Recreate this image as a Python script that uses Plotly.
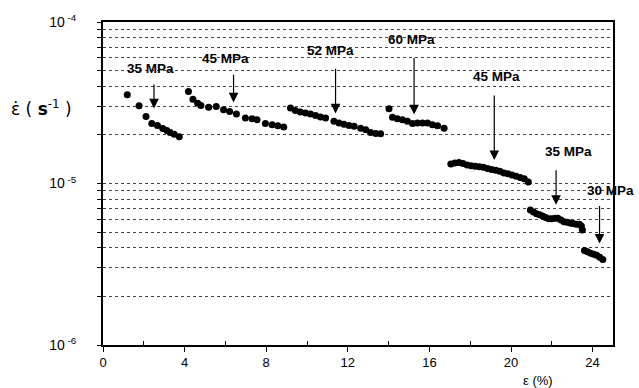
import plotly.graph_objects as go

# ---- data (strain in %, strain rate in 1/s) ----
strain_35a = [1.19, 1.77, 2.11, 2.39, 2.67, 2.93, 3.13, 3.29, 3.49, 3.74]
rate_35a = [3.54e-5, 3.03e-5, 2.60e-5, 2.35e-5, 2.29e-5, 2.19e-5, 2.13e-5, 2.07e-5, 2.02e-5, 1.95e-5]

strain_45a = [4.19, 4.41, 4.64, 4.80, 5.18, 5.55, 5.91, 6.21, 6.54, 6.98, 7.31, 7.55, 7.96, 8.29, 8.57, 8.86]
rate_45a = [3.71e-5, 3.33e-5, 3.14e-5, 3.04e-5, 2.97e-5, 3.00e-5, 2.86e-5, 2.79e-5, 2.69e-5, 2.54e-5,
            2.52e-5, 2.48e-5, 2.35e-5, 2.31e-5, 2.28e-5, 2.24e-5]

strain_52 = [9.19, 9.43, 9.68, 9.93, 10.17, 10.42, 10.66, 10.91, 11.32, 11.57, 11.81, 12.06, 12.31,
             12.63, 12.88, 13.12, 13.37, 13.61]
rate_52 = [2.93e-5, 2.83e-5, 2.77e-5, 2.73e-5, 2.69e-5, 2.64e-5, 2.58e-5, 2.54e-5, 2.43e-5, 2.37e-5,
           2.33e-5, 2.29e-5, 2.26e-5, 2.20e-5, 2.15e-5, 2.07e-5, 2.04e-5, 2.03e-5]

strain_60 = [14.02, 14.19, 14.43, 14.68, 14.92, 15.17, 15.41, 15.66, 15.91, 16.15, 16.40, 16.72]
rate_60 = [2.90e-5, 2.57e-5, 2.52e-5, 2.48e-5, 2.43e-5, 2.35e-5, 2.37e-5, 2.37e-5, 2.37e-5, 2.31e-5,
           2.28e-5, 2.20e-5]

strain_45b = [17.05, 17.25, 17.45, 17.65, 17.85, 18.05, 18.25, 18.45, 18.65, 18.85, 19.05, 19.25,
              19.45, 19.65, 19.85, 20.05, 20.25, 20.45, 20.65, 20.85]
rate_45b = [1.32e-5, 1.34e-5, 1.35e-5, 1.33e-5, 1.30e-5, 1.29e-5, 1.28e-5, 1.27e-5, 1.26e-5, 1.24e-5,
            1.22e-5, 1.21e-5, 1.19e-5, 1.16e-5, 1.15e-5, 1.13e-5, 1.11e-5, 1.09e-5, 1.07e-5, 1.02e-5]

strain_35b = [20.95, 21.1, 21.25, 21.4, 21.55, 21.7, 21.85, 22.0, 22.15, 22.3, 22.45, 22.6, 22.75,
              22.9, 23.05, 23.2, 23.35, 23.45, 23.5]
rate_35b = [6.85e-6, 6.65e-6, 6.5e-6, 6.4e-6, 6.3e-6, 6.15e-6, 6.05e-6, 6.05e-6, 6.1e-6, 6.1e-6,
            5.95e-6, 5.8e-6, 5.75e-6, 5.7e-6, 5.65e-6, 5.6e-6, 5.6e-6, 5.45e-6, 5.15e-6]

strain_30 = [23.6, 23.75, 23.9, 24.05, 24.2, 24.35, 24.5]
rate_30 = [3.85e-6, 3.78e-6, 3.7e-6, 3.65e-6, 3.6e-6, 3.5e-6, 3.38e-6]

# stress labels: text, arrow x, arrow tail log10(y), arrow tip log10(y), text x, text log10(y)
label_text = ["35 MPa", "45 MPa", "52 MPa", "60 MPa", "45 MPa", "35 MPa", "30 MPa"]
arrow_x = [2.5, 6.4, 11.4, 15.25, 19.18, 22.21, 24.34]
arrow_tail = [-4.332, -4.271, -4.234, -4.166, -4.40, -4.862, -5.083]
arrow_tip = [-4.535, -4.498, -4.566, -4.572, -4.855, -5.132, -5.372]
text_x = [2.31, 6.0, 11.15, 15.13, 19.31, 22.8, 24.9]
text_y = [-4.289, -4.228, -4.178, -4.111, -4.338, -4.80, -5.046]

x_ticks = [0, 4, 8, 12, 16, 20, 24]
x_minor = [2, 6, 10, 14, 18, 22]
y_decades = [-6, -5, -4]

segments = [(strain_35a, rate_35a), (strain_45a, rate_45a), (strain_52, rate_52),
            (strain_60, rate_60), (strain_45b, rate_45b), (strain_35b, rate_35b),
            (strain_30, rate_30)]

fig = go.Figure()
for sx, sy in segments:
    fig.add_trace(go.Scatter(x=sx, y=sy, mode="markers",
                             marker=dict(color="black", size=7, symbol="circle"),
                             showlegend=False, cliponaxis=False))

# y tick positions: every 1..9 x decade
yvals, ytext = [], []
for d in y_decades[:-1]:
    for m in range(1, 10):
        yvals.append(m * 10.0 ** d)
        ytext.append("10<sup> %d</sup>" % d if m == 1 else " ")
yvals.append(10.0 ** y_decades[-1])
ytext.append("10<sup> %d</sup>" % y_decades[-1])

font_family = "Liberation Sans, Arial, sans-serif"

fig.update_layout(
    width=639, height=388,
    margin=dict(l=103, r=26, t=20, b=43),
    paper_bgcolor="white", plot_bgcolor="white",
    font=dict(family=font_family, size=13, color="black"),
    xaxis=dict(range=[0, 25], tickvals=x_ticks, ticks="outside", ticklen=5, tickwidth=1.2,
               tickcolor="black", showgrid=False, zeroline=False,
               showline=True, linecolor="black", linewidth=1.6, mirror=True,
               minor=dict(tickvals=x_minor, ticks="inside", ticklen=4,
                          tickcolor="black", showgrid=False),
               tickfont=dict(size=13)),
    yaxis=dict(type="log", range=[-6, -4], tickvals=yvals, ticktext=ytext,
               ticks="outside", ticklen=4, tickwidth=1.2, tickcolor="black",
               showgrid=True, gridcolor="#444", griddash="dot", gridwidth=1,
               zeroline=False, showline=True, linecolor="black", linewidth=2, mirror=True,
               ticklabelstandoff=18, tickfont=dict(size=14)),
)

for i in range(len(label_text)):
    fig.add_annotation(x=arrow_x[i], y=arrow_tip[i], ax=arrow_x[i], ay=arrow_tail[i],
                       axref="x", ayref="y", xref="x", yref="y", text=" ",
                       showarrow=True, arrowhead=2, arrowsize=1.6, arrowwidth=1.2,
                       arrowcolor="black", standoff=0, startstandoff=0)
    fig.add_annotation(x=text_x[i], y=text_y[i], xref="x", yref="y",
                       text="<b>%s</b>" % label_text[i], showarrow=False,
                       xanchor="center", yanchor="middle",
                       font=dict(size=13.5, family=font_family, color="black"))

# axis titles
fig.add_annotation(xref="paper", yref="paper", x=(9 - 103) / 510, y=0.735,
                   text="\u03b5\u0307 ( <b>s</b><sup>-1</sup> )", showarrow=False,
                   xanchor="left", yanchor="middle",
                   font=dict(size=17, family="DejaVu Sans, sans-serif", color="black"))
fig.add_annotation(xref="paper", yref="paper", x=(538 - 103) / 510, y=-0.11,
                   text="\u03b5 (%)", showarrow=False, xanchor="center", yanchor="middle",
                   font=dict(size=13, family=font_family, color="black"))

fig.write_html("out.html", config={"displayModeBar": False},
               post_script="document.body.style.margin='0';")
